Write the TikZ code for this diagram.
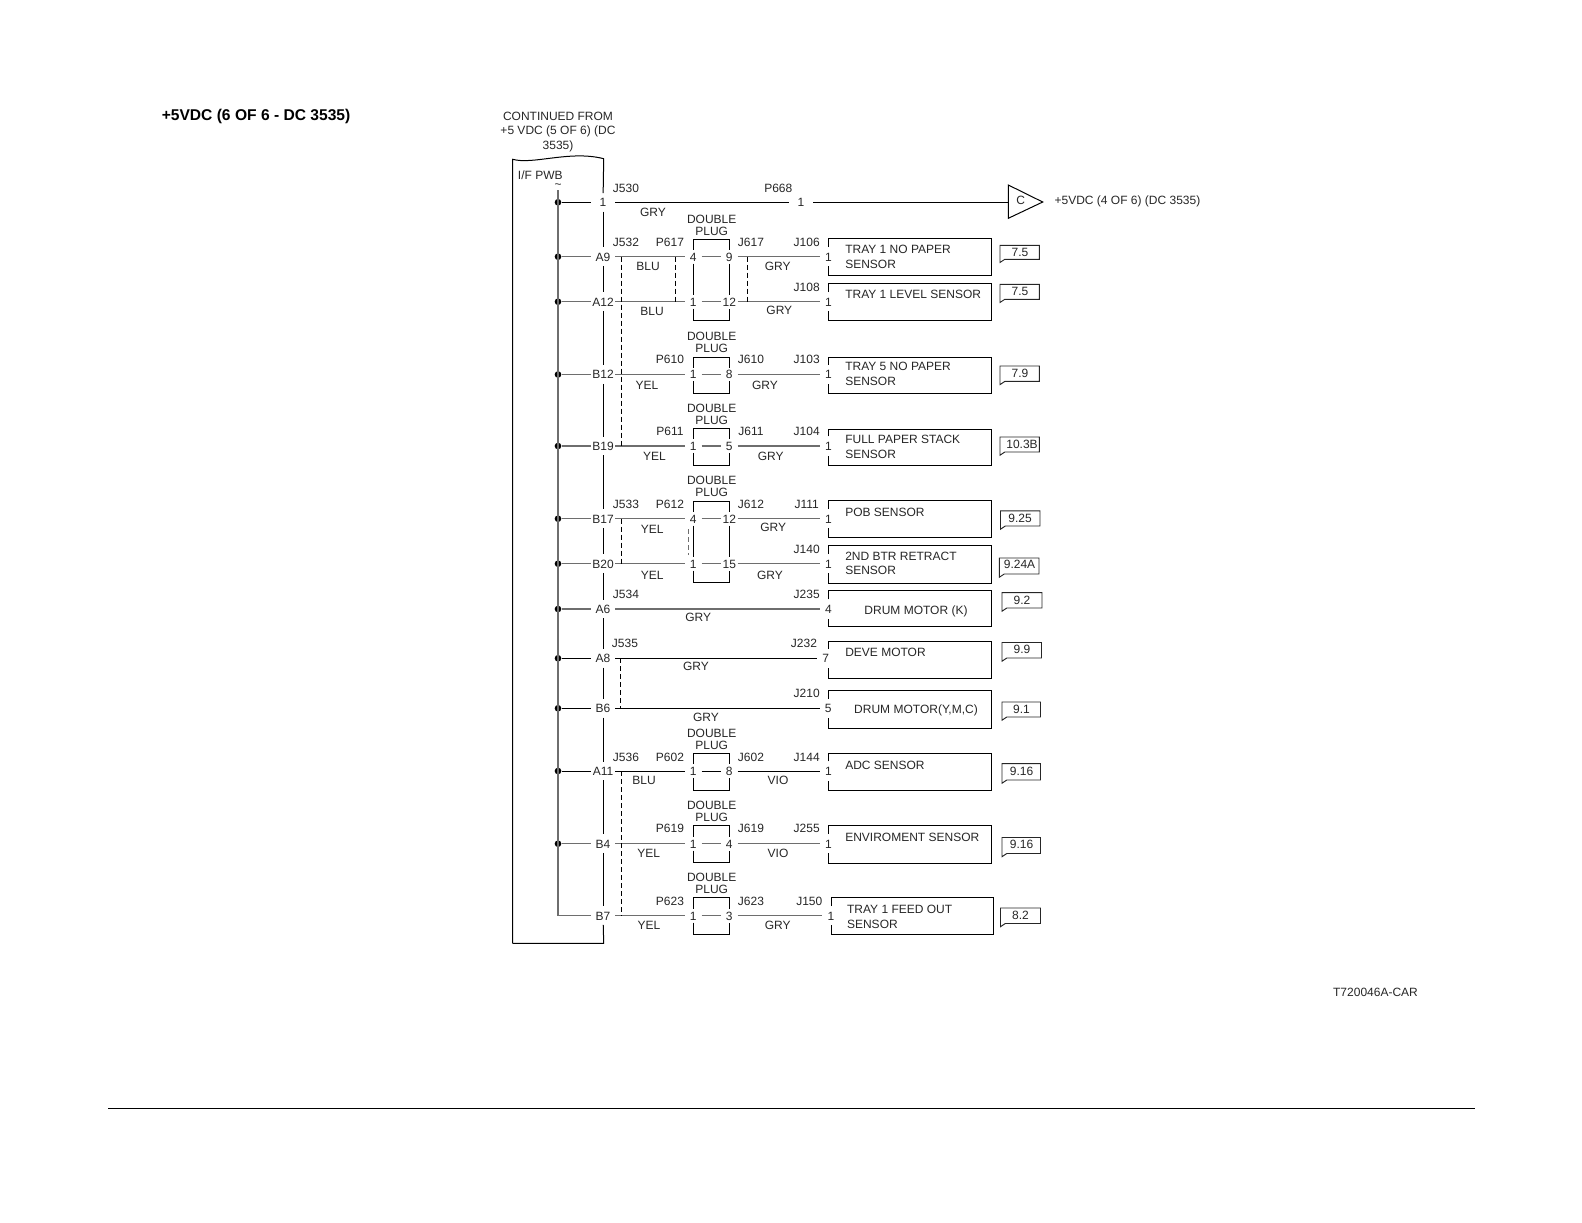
\documentclass[tikz,border=0pt]{standalone}
\usepackage{fontspec}
\setmainfont{Liberation Sans}
\definecolor{ink}{HTML}{262626}
\definecolor{wg}{HTML}{6E6E6E}
\tikzset{
  x=.75pt,y=-.75pt,
  lab/.style={inner sep=0pt,text=ink,font=\fontsize{9}{11}\selectfont,text height=6.5pt,text depth=0pt},
  multi/.style={inner sep=0pt,text=ink,align=left,anchor=west,font=\fontsize{9}{10.9}\selectfont},
  stack/.style={inner sep=0pt,text=ink,align=center,font=\fontsize{9}{8.9}\selectfont},
  pwbpin/.style={lab,minimum width=18pt,minimum height=13.5pt},
  plugpin/.style={lab,minimum width=12pt,minimum height=10pt},
  senspin/.style={lab,minimum width=12.75pt,minimum height=14pt},
  ln/.style={draw=black,line width=.75pt},
  gw/.style={draw=wg,line width=1pt},
  dsh/.style={draw=black,line width=.7pt,dash pattern=on 3.6pt off 2.4pt},
  dot/.style={circle,fill=black,inner sep=0pt,minimum size=5pt},
  refbox/.style={draw=ink,line width=.7pt},
}
% text label
\newcommand\lab[4]{\node[lab] (#1) at (#2,#3) {#4};}
% row on the I/F PWB: name, y, pin text, wire style
\newcommand\pwbrow[4]{%
  \node[dot] (#1d) at (558,#2) {};
  \node[pwbpin] (#1p) at (603,#2) {#3};
  \draw[#4] (#1d) -- (#1p);}
% plug pin pair: name, y, left text, right text, style
\newcommand\plugpins[5]{%
  \node[plugpin] (#1l) at (693.3,#2) {#3};
  \node[plugpin] (#1r) at (729.3,#2) {#4};
  \draw[#5] (#1p) -- (#1l);
  \draw[#5] (#1l) -- (#1r);}
% one-row bracket: name, y
\newcommand\bracket[3]{%
  \coordinate (#1tl) at (693.3,#2);\coordinate (#1tr) at (729.3,#2);
  \coordinate (#1bl) at (693.3,#3);\coordinate (#1br) at (729.3,#3);}
% sensor box: name, pin node, left, right, top, bottom
\newcommand\sensor[6]{%
  \coordinate (#1tl) at (#3,#5);\coordinate (#1tr) at (#4,#5);
  \coordinate (#1br) at (#4,#6);\coordinate (#1bl) at (#3,#6);
  \draw[ln] (#1tl |- #2.north) -- (#1tl) -- (#1tr) -- (#1br) -- (#1bl) -- (#1bl |- #2.south);}
% page tag: name, x1, x2, top, bottom, text x, text y, text
\newcommand\tagbox[8]{%
  \coordinate (#1a) at (#2,#4);\coordinate (#1b) at (#3,#4);
  \coordinate (#1c) at (#3,#5);\coordinate (#1e) at (#2,#5);
  \draw[refbox] (#1a) -- (#1b) -- (#1c) -- ([xshift=3.6pt]#1e) -- ([yshift=-2.4pt]#1e) -- cycle;
  \node[lab] (#1t) at (#6,#7) {#8};}
\begin{document}
\begin{tikzpicture}
\useasboundingbox (0,0) rectangle (1582,1222);
\node[inner sep=0pt,anchor=west,text=black,font=\fontsize{11.7}{14}\selectfont\bfseries,text height=8.4pt,text depth=0pt] (title) at (161.5,115) {+5VDC (6 OF 6 - DC 3535)};
\node[stack,font=\fontsize{9}{10.9}\selectfont] (cont) at (558,132) {CONTINUED FROM\\+5 VDC (5 OF 6) (DC\\3535)};
\node[lab,anchor=west] (pwb) at (517.7,175.3) {I/F PWB};
\node[inner sep=0pt,text=ink,font=\fontsize{9}{11}\selectfont] (tilde) at (558,186.5) {\symbol{126}};
\node[lab] (code) at (1375.5,992) {T720046A-CAR};
% rule at foot
\coordinate (ruleL) at (108,1108);\coordinate (ruleR) at (1475,1108);
\draw[draw=black,line width=.6pt] (ruleL) -- (ruleR);

% PWB rows
\pwbrow{r}{202.3}{1}{ln}
\pwbrow{aix}{256.7}{A9}{gw}
\pwbrow{atw}{301.7}{A12}{gw}
\pwbrow{bt}{374.5}{B12}{gw}
\pwbrow{bn}{446}{B19}{gw}
\pwbrow{bs}{518.7}{B17}{gw}
\pwbrow{bz}{563.7}{B20}{gw}
\pwbrow{asx}{609}{A6}{gw}
\pwbrow{ae}{658.3}{A8}{ln}
\pwbrow{be}{708.3}{B6}{ln}
\pwbrow{ael}{771}{A11}{ln}
\pwbrow{bf}{843.7}{B4}{gw}
\coordinate (bvd) at (558,915.7);
\node[pwbpin] (bvp) at (603,915.7) {B7};
% bus and PWB outline
\coordinate (bustop) at (558,190);
\draw[gw] (bustop) -- (bvd) -- (bvp);
\coordinate (pwbTL) at (512.7,159.3);\coordinate (pwbTR) at (603.7,158.7);
\coordinate (pwbBL) at (512.7,943.3);\coordinate (pwbBR) at (603.7,943.3);
\draw[ln] (pwbBL) -- (pwbTL) .. controls (533,165) and (570,150) .. (pwbTR) -- (rp);
\draw[ln] (rp) -- (aixp);\draw[ln] (aixp) -- (atwp);\draw[ln] (atwp) -- (btp);\draw[ln] (btp) -- (bnp);
\draw[ln] (bnp) -- (bsp);\draw[ln] (bsp) -- (bzp);\draw[ln] (bzp) -- (asxp);\draw[ln] (asxp) -- (aep);
\draw[ln] (aep) -- (bep);\draw[ln] (bep) -- (aelp);\draw[ln] (aelp) -- (bfp);\draw[ln] (bfp) -- (bvp);
\draw[ln] (bvp) -- (pwbBR) -- (pwbBL);

% row 1 to connector C
\lab{jfh}{626}{187.7}{J530}
\lab{gr}{653}{211.7}{GRY}
\lab{pss}{778.3}{187.7}{P668}
\node[pwbpin] (mid) at (801,202.3) {1};
\node[lab,draw=none,anchor=west] (cont2) at (1054.3,200.5) {+5VDC (4 OF 6) (DC 3535)};
\coordinate (tri1) at (1008.3,185);\coordinate (tri2) at (1042.7,202);\coordinate (tri3) at (1008.3,218.3);
\coordinate (triw) at (1008.3,202.3);
\draw[ln] (tri1) -- (tri2) -- (tri3) -- cycle;
\lab{tric}{1020.7}{200.5}{C}
\draw[ln] (rp) -- (mid);\draw[ln] (mid) -- (triw);

% A9 / A12
\lab{ja}{626}{241.7}{J532}\lab{pa}{670}{241.7}{P617}\lab{jb}{751}{241.7}{J617}\lab{jc}{806.7}{241.7}{J106}
\node[stack] (dpa) at (711.7,225) {DOUBLE\\PLUG};
\plugpins{aix}{256.7}{4}{9}{gw}
\plugpins{atw}{301.7}{1}{12}{gw}
\lab{la}{648}{266}{BLU}\lab{lb}{777.7}{266}{GRY}
\lab{lc}{652}{310.7}{BLU}\lab{ld}{779.3}{310}{GRY}
\lab{je}{806.7}{286.7}{J108}
\node[senspin] (sa) at (828.5,256.7) {1};
\node[senspin] (sb) at (828.5,301.7) {1};
\draw[gw] (aixr) -- (sa);\draw[gw] (atwr) -- (sb);
\bracket{pa}{239.3}{320.3}
\draw[ln] (aixl) |- (patr) -- (aixr);
\draw[ln] (aixl) -- (atwl);\draw[ln] (aixr) -- (atwr);
\draw[ln] (atwl) |- (pabr) -- (atwr);
\sensor{sx}{sa}{828.3}{991}{238.3}{275}
\sensor{sy}{sb}{828.3}{991}{283.3}{320.3}
\node[multi] (ta) at (845,256.8) {TRAY 1 NO PAPER\\SENSOR};
\node[lab,anchor=west] (tb) at (845,294.3) {TRAY 1 LEVEL SENSOR};
\tagbox{ga}{1000}{1039.3}{245.3}{259.3}{1020}{252}{7.5}
\tagbox{gb}{1000}{1039.3}{284.3}{299.3}{1020}{291}{7.5}
\coordinate (da1) at (675.3,256.7);\coordinate (da2) at (675.3,301.7);
\coordinate (db1) at (747.3,256.7);\coordinate (db2) at (747.3,301.7);
\draw[dsh] (da1) -- (da2);\draw[dsh] (db1) -- (db2);

% B12
\node[stack] (dpb) at (711.7,342) {DOUBLE\\PLUG};
\lab{pb}{670}{359.5}{P610}\lab{jf}{751}{359.5}{J610}\lab{jg}{806.7}{359.5}{J103}
\plugpins{bt}{374.5}{1}{8}{gw}
\lab{le}{647}{385.4}{YEL}\lab{lf}{765}{385.4}{GRY}
\node[senspin] (sc) at (828.5,374.5) {1};
\draw[gw] (btr) -- (sc);
\bracket{pb2}{357}{393}
\draw[ln] (btl.north) |- (pb2tr) -- (btr.north);
\draw[ln] (btl.south) |- (pb2br) -- (btr.south);
\sensor{sz}{sc}{828.3}{991}{357}{393.5}
\node[multi] (tc) at (845,373.6) {TRAY 5 NO PAPER\\SENSOR};
\tagbox{gc}{1000}{1039.3}{366}{381.4}{1020}{373.5}{7.9}

% B19
\node[stack] (dpc) at (711.7,414) {DOUBLE\\PLUG};
\lab{pc}{670}{431}{P611}\lab{jh}{751}{431}{J611}\lab{ji}{806.7}{431}{J104}
\plugpins{bn}{446}{1}{5}{gw}
\lab{lg}{654.5}{456}{YEL}\lab{lh}{770.8}{456}{GRY}
\node[senspin] (sd) at (828.5,446) {1};
\draw[gw] (bnr) -- (sd);
\bracket{pc2}{428.5}{465}
\draw[ln] (bnl.north) |- (pc2tr) -- (bnr.north);
\draw[ln] (bnl.south) |- (pc2br) -- (bnr.south);
\sensor{sw}{sd}{828.3}{991}{429}{465.3}
\node[multi] (td) at (845,446.7) {FULL PAPER STACK\\SENSOR};
\tagbox{gd}{1000}{1039.3}{437}{452}{1022}{444.5}{10.3B}
\coordinate (dc1) at (621.3,256.7);\coordinate (dc2) at (621.3,446);
\draw[dsh] (dc1) -- (dc2);

% B17 / B20
\node[stack] (dpd) at (711.7,486.5) {DOUBLE\\PLUG};
\lab{jj}{626}{503.7}{J533}\lab{pd}{670}{503.7}{P612}\lab{jk}{751}{503.7}{J612}\lab{jl}{806.7}{503.7}{J111}
\plugpins{bs}{518.7}{4}{12}{gw}
\plugpins{bz}{563.7}{1}{15}{gw}
\lab{li}{652.3}{529.3}{YEL}\lab{lj}{773.3}{526.7}{GRY}
\lab{lk}{652.3}{575.3}{YEL}\lab{ll}{770}{575.3}{GRY}
\lab{jm}{806.7}{549}{J140}
\node[senspin] (se) at (828.5,518.7) {1};
\node[senspin] (sf) at (828.5,563.7) {1};
\draw[gw] (bsr) -- (se);\draw[gw] (bzr) -- (sf);
\bracket{pd2}{501}{582}
\draw[ln] (bsl.north) |- (pd2tr) -- (bsr.north);
\draw[ln] (bsl) -- (bzl);\draw[ln] (bsr) -- (bzr);
\draw[ln] (bzl.south) |- (pd2br) -- (bzr.south);
\sensor{sv}{se}{828.3}{991}{500.7}{537}
\sensor{su}{sf}{828.3}{991}{545.7}{583.6}
\node[lab,anchor=west] (te) at (845,512) {POB SENSOR};
\node[multi] (tf) at (845,563.5) {2ND BTR RETRACT\\SENSOR};
\tagbox{ge}{1000.5}{1040}{510.8}{526}{1020}{518}{9.25}
\tagbox{gf}{999.4}{1039}{558}{574}{1019.5}{564}{9.24A}
\coordinate (dd1) at (621.3,518.7);\coordinate (dd2) at (621.3,563.7);
\draw[dsh] (dd1) -- (dd2);
\coordinate (de1) at (688,529);\coordinate (de2) at (688,555);
\draw[dsh,draw=wg] (de1) -- (de2);

% A6
\lab{jn}{626}{594}{J534}\lab{jo}{806.7}{594}{J235}\lab{lm}{698.3}{616.7}{GRY}
\node[senspin] (sg) at (828.5,609) {4};
\draw[gw] (asxp) -- (sg);
\sensor{st}{sg}{828.3}{991}{590.7}{626.7}
\lab{tg}{916}{610}{DRUM MOTOR (K)}
\tagbox{gg}{1002}{1042}{592.7}{608}{1022}{600}{9.2}

% A8
\lab{jp}{625}{643.3}{J535}\lab{jq}{804}{643.3}{J232}\lab{ln2}{696}{666}{GRY}
\node[senspin] (sh) at (825.7,658.3) {7};
\draw[ln] (aep) -- (sh);
\sensor{ss}{sh}{828.3}{991}{641}{678.7}
\node[lab,anchor=west] (th) at (845,652) {DEVE MOTOR};
\tagbox{gh}{1002}{1041.5}{642.5}{658}{1022}{649.5}{9.9}

% B6
\lab{jr}{806.7}{693.3}{J210}\lab{lo}{706}{717.3}{GRY}
\node[senspin] (si) at (828.3,708.3) {5};
\draw[ln] (bep) -- (si);
\sensor{sr}{si}{828.3}{991}{690}{728}
\lab{ti}{916}{709}{DRUM MOTOR(Y,M,C)}
\tagbox{gi}{1002}{1040.5}{702}{717}{1021.5}{709}{9.1}
\coordinate (df1) at (620.3,658.3);\coordinate (df2) at (620.3,708.3);
\draw[dsh] (df1) -- (df2);

% A11
\node[stack] (dpe) at (711.7,739) {DOUBLE\\PLUG};
\lab{js}{626}{756.7}{J536}\lab{pe}{670}{756.7}{P602}\lab{jt}{751}{756.7}{J602}\lab{ju}{806.7}{756.7}{J144}
\plugpins{ael}{771}{1}{8}{ln}
\lab{lp}{644}{780}{BLU}\lab{lq}{778}{780}{VIO}
\node[senspin] (sj) at (828.5,771) {1};
\draw[ln] (aelr) -- (sj);
\bracket{pe2}{753.3}{790}
\draw[ln] (aell.north) |- (pe2tr) -- (aelr.north);
\draw[ln] (aell.south) |- (pe2br) -- (aelr.south);
\sensor{sq}{sj}{828.3}{991}{753.3}{790.5}
\node[lab,anchor=west] (tj) at (845,765) {ADC SENSOR};
\tagbox{gj}{1002}{1040.5}{763.7}{780}{1021.5}{771}{9.16}

% B4
\node[stack] (dpf) at (711.7,811.5) {DOUBLE\\PLUG};
\lab{pf}{670}{828.3}{P619}\lab{jv}{751}{828.3}{J619}\lab{jw}{806.7}{828.3}{J255}
\plugpins{bf}{843.7}{1}{4}{gw}
\lab{lr}{648.7}{852.7}{YEL}\lab{ls}{778}{852.7}{VIO}
\node[senspin] (sk) at (828.5,843.7) {1};
\draw[gw] (bfr) -- (sk);
\bracket{pf2}{825.3}{862}
\draw[ln] (bfl.north) |- (pf2tr) -- (bfr.north);
\draw[ln] (bfl.south) |- (pf2br) -- (bfr.south);
\sensor{sp}{sk}{828.3}{991}{825.3}{863}
\node[lab,anchor=west] (tk) at (845,837.5) {ENVIROMENT SENSOR};
\tagbox{gk}{1002}{1040.5}{837.5}{853.5}{1021.5}{844.5}{9.16}

% B7
\node[stack] (dpg) at (711.7,883.5) {DOUBLE\\PLUG};
\lab{pg}{670}{900.7}{P623}\lab{jx}{751}{900.7}{J623}\lab{jy}{809.3}{900.7}{J150}
\plugpins{bv}{915.7}{1}{3}{gw}
\lab{lt}{649}{925}{YEL}\lab{lu}{777.7}{925}{GRY}
\node[senspin] (sl) at (831,915.7) {1};
\draw[gw] (bvr) -- (sl);
\bracket{pg2}{897.3}{934.3}
\draw[ln] (bvl.north) |- (pg2tr) -- (bvr.north);
\draw[ln] (bvl.south) |- (pg2br) -- (bvr.south);
\sensor{so}{sl}{831.7}{993}{897.3}{934.3}
\node[multi] (tl) at (846.8,917) {TRAY 1 FEED OUT\\SENSOR};
\tagbox{gl}{1000.5}{1040.5}{908}{923.5}{1020.5}{915.5}{8.2}
\coordinate (dg1) at (621.3,771);\coordinate (dg2) at (621.3,915.7);
\draw[dsh] (dg1) -- (dg2);
\end{tikzpicture}
\end{document}
